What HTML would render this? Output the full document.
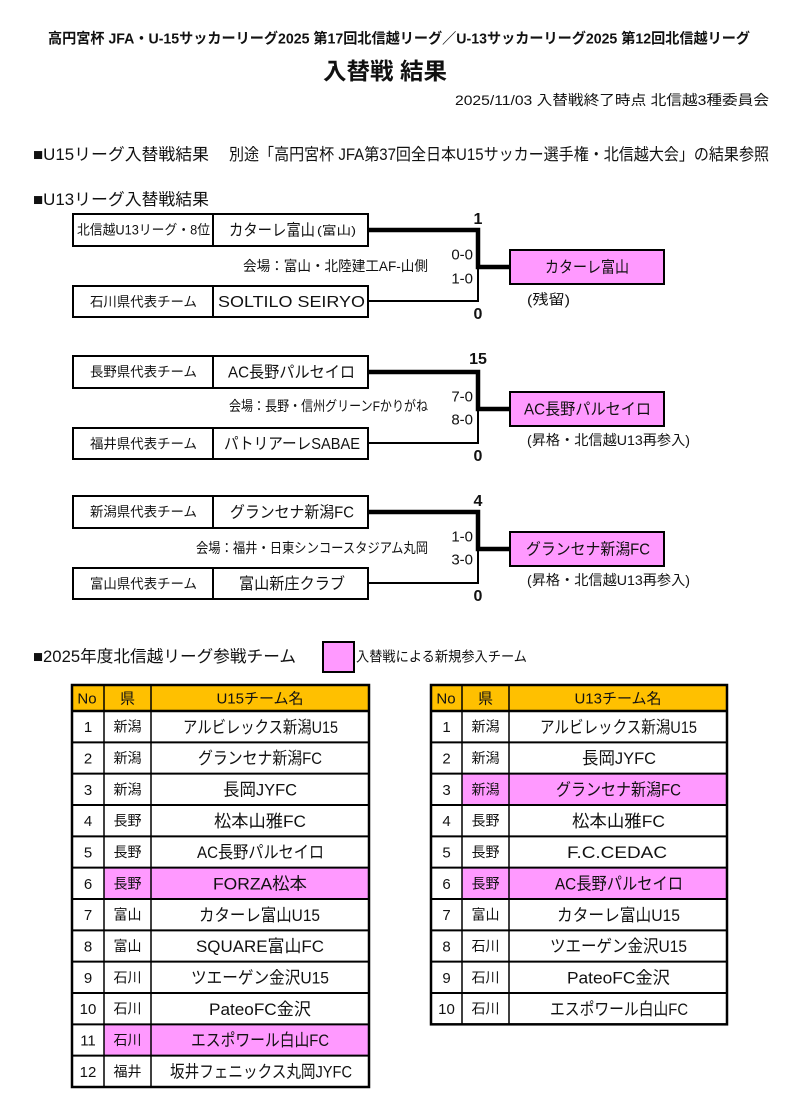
<!DOCTYPE html>
<html><head><meta charset="utf-8">
<style>
html,body{margin:0;padding:0;background:#fff;}
svg{display:block;}
text{font-family:"Liberation Sans","Noto Sans CJK JP",sans-serif;fill:#111;}
</style></head>
<body>
<svg width="794" height="1116" viewBox="0 0 794 1116" xmlns="http://www.w3.org/2000/svg">
<rect width="794" height="1116" fill="#fff"/>

<!-- Header -->
<text x="48" y="43.5" font-size="14.5" font-weight="bold" textLength="702" lengthAdjust="spacingAndGlyphs">高円宮杯 JFA・U-15サッカーリーグ2025 第17回北信越リーグ／U-13サッカーリーグ2025 第12回北信越リーグ</text>
<text x="323" y="79" font-size="23" font-weight="bold" textLength="124" lengthAdjust="spacingAndGlyphs">入替戦 結果</text>
<text x="455" y="105" font-size="14" textLength="314" lengthAdjust="spacingAndGlyphs">2025/11/03 入替戦終了時点  北信越3種委員会</text>

<text x="33" y="160" font-size="16.5" textLength="176" lengthAdjust="spacingAndGlyphs">■U15リーグ入替戦結果</text>
<text x="229" y="160" font-size="16.5" textLength="540" lengthAdjust="spacingAndGlyphs">別途「高円宮杯 JFA第37回全日本U15サッカー選手権・北信越大会」の結果参照</text>
<text x="33" y="205" font-size="16.5" textLength="176" lengthAdjust="spacingAndGlyphs">■U13リーグ入替戦結果</text>

<!-- Bracket 1 -->
<g>
<polyline points="368,230 478,230 478,267 509,267" fill="none" stroke="#000" stroke-width="4.5"/>
<polyline points="368,301 478,301 478,267" fill="none" stroke="#000" stroke-width="2"/>
<rect x="73" y="214" width="295" height="32" fill="#fff" stroke="#000" stroke-width="2"/>
<line x1="213" y1="214" x2="213" y2="246" stroke="#000" stroke-width="2"/>
<rect x="73" y="286" width="295" height="31" fill="#fff" stroke="#000" stroke-width="2"/>
<line x1="213" y1="286" x2="213" y2="317" stroke="#000" stroke-width="2"/>
<rect x="510" y="250" width="154" height="34" fill="#FF99FF" stroke="#000" stroke-width="2"/>
<text x="77" y="234.5" font-size="13.5" textLength="133" lengthAdjust="spacingAndGlyphs">北信越U13リーグ・8位</text>
<text x="229" y="235.5" font-size="16" textLength="86" lengthAdjust="spacingAndGlyphs">カターレ富山</text>
<text x="317" y="234.5" font-size="12" textLength="39" lengthAdjust="spacingAndGlyphs">(富山)</text>
<text x="90" y="306.5" font-size="13.5" textLength="107" lengthAdjust="spacingAndGlyphs">石川県代表チーム</text>
<text x="218" y="307" font-size="16" textLength="147" lengthAdjust="spacingAndGlyphs">SOLTILO SEIRYO</text>
<text x="545" y="272.5" font-size="16" textLength="84" lengthAdjust="spacingAndGlyphs">カターレ富山</text>
<text x="478" y="224" font-size="16" font-weight="bold" text-anchor="middle">1</text>
<text x="478" y="319" font-size="16" font-weight="bold" text-anchor="middle">0</text>
<text x="473" y="259.5" font-size="15" text-anchor="end">0-0</text>
<text x="473" y="283.5" font-size="15" text-anchor="end">1-0</text>
<text x="243" y="271" font-size="14" textLength="185" lengthAdjust="spacingAndGlyphs">会場：富山・北陸建工AF-山側</text>
<text x="527" y="304.5" font-size="14" textLength="43" lengthAdjust="spacingAndGlyphs">(残留)</text>
</g>

<!-- Bracket 2 -->
<g transform="translate(0,142)">
<polyline points="368,230 478,230 478,267 509,267" fill="none" stroke="#000" stroke-width="4.5"/>
<polyline points="368,301 478,301 478,267" fill="none" stroke="#000" stroke-width="2"/>
<rect x="73" y="214" width="295" height="32" fill="#fff" stroke="#000" stroke-width="2"/>
<line x1="213" y1="214" x2="213" y2="246" stroke="#000" stroke-width="2"/>
<rect x="73" y="286" width="295" height="31" fill="#fff" stroke="#000" stroke-width="2"/>
<line x1="213" y1="286" x2="213" y2="317" stroke="#000" stroke-width="2"/>
<rect x="510" y="250" width="154" height="34" fill="#FF99FF" stroke="#000" stroke-width="2"/>
<text x="90" y="234.5" font-size="13.5" textLength="107" lengthAdjust="spacingAndGlyphs">長野県代表チーム</text>
<text x="228" y="235.5" font-size="16" textLength="127" lengthAdjust="spacingAndGlyphs">AC長野パルセイロ</text>
<text x="90" y="306.5" font-size="13.5" textLength="107" lengthAdjust="spacingAndGlyphs">福井県代表チーム</text>
<text x="224" y="307" font-size="16" textLength="136" lengthAdjust="spacingAndGlyphs">パトリアーレSABAE</text>
<text x="524" y="272.5" font-size="16" textLength="127" lengthAdjust="spacingAndGlyphs">AC長野パルセイロ</text>
<text x="478" y="222" font-size="16" font-weight="bold" text-anchor="middle">15</text>
<text x="478" y="319" font-size="16" font-weight="bold" text-anchor="middle">0</text>
<text x="473" y="259.5" font-size="15" text-anchor="end">7-0</text>
<text x="473" y="282.5" font-size="15" text-anchor="end">8-0</text>
<text x="229" y="269" font-size="14" textLength="199" lengthAdjust="spacingAndGlyphs">会場：長野・信州グリーンFかりがね</text>
<text x="527" y="303" font-size="14" textLength="163" lengthAdjust="spacingAndGlyphs">(昇格・北信越U13再参入)</text>
</g>

<!-- Bracket 3 -->
<g transform="translate(0,282)">
<polyline points="368,230 478,230 478,267 509,267" fill="none" stroke="#000" stroke-width="4.5"/>
<polyline points="368,301 478,301 478,267" fill="none" stroke="#000" stroke-width="2"/>
<rect x="73" y="214" width="295" height="32" fill="#fff" stroke="#000" stroke-width="2"/>
<line x1="213" y1="214" x2="213" y2="246" stroke="#000" stroke-width="2"/>
<rect x="73" y="286" width="295" height="31" fill="#fff" stroke="#000" stroke-width="2"/>
<line x1="213" y1="286" x2="213" y2="317" stroke="#000" stroke-width="2"/>
<rect x="510" y="250" width="154" height="34" fill="#FF99FF" stroke="#000" stroke-width="2"/>
<text x="90" y="234.5" font-size="13.5" textLength="107" lengthAdjust="spacingAndGlyphs">新潟県代表チーム</text>
<text x="230" y="235.5" font-size="16" textLength="124" lengthAdjust="spacingAndGlyphs">グランセナ新潟FC</text>
<text x="90" y="306.5" font-size="13.5" textLength="107" lengthAdjust="spacingAndGlyphs">富山県代表チーム</text>
<text x="239" y="307" font-size="16" textLength="106" lengthAdjust="spacingAndGlyphs">富山新庄クラブ</text>
<text x="526" y="272.5" font-size="16" textLength="124" lengthAdjust="spacingAndGlyphs">グランセナ新潟FC</text>
<text x="478" y="224" font-size="16" font-weight="bold" text-anchor="middle">4</text>
<text x="478" y="319" font-size="16" font-weight="bold" text-anchor="middle">0</text>
<text x="473" y="259.5" font-size="15" text-anchor="end">1-0</text>
<text x="473" y="282.5" font-size="15" text-anchor="end">3-0</text>
<text x="196" y="271" font-size="14" textLength="232" lengthAdjust="spacingAndGlyphs">会場：福井・日東シンコースタジアム丸岡</text>
<text x="527" y="303" font-size="14" textLength="163" lengthAdjust="spacingAndGlyphs">(昇格・北信越U13再参入)</text>
</g>

<!-- Section 3 heading & legend -->
<text x="33" y="662" font-size="16.5" textLength="263" lengthAdjust="spacingAndGlyphs">■2025年度北信越リーグ参戦チーム</text>
<rect x="323" y="642" width="31" height="30" fill="#FF99FF" stroke="#000" stroke-width="2"/>
<text x="356" y="661.5" font-size="14" textLength="171" lengthAdjust="spacingAndGlyphs">入替戦による新規参入チーム</text>

<!-- Left table -->
<g>
<rect x="72" y="685" width="297" height="26" fill="#FFC000"/>
<rect x="104" y="867.67" width="265" height="31.33" fill="#FF99FF"/>
<rect x="104" y="1024.33" width="265" height="31.33" fill="#FF99FF"/>
<g stroke="#000" stroke-width="2">
<line x1="72" y1="711" x2="369" y2="711" stroke-width="2.5"/>
<line x1="72" y1="742.33" x2="369" y2="742.33"/>
<line x1="72" y1="773.67" x2="369" y2="773.67"/>
<line x1="72" y1="805" x2="369" y2="805"/>
<line x1="72" y1="836.33" x2="369" y2="836.33"/>
<line x1="72" y1="867.67" x2="369" y2="867.67"/>
<line x1="72" y1="899" x2="369" y2="899"/>
<line x1="72" y1="930.33" x2="369" y2="930.33"/>
<line x1="72" y1="961.67" x2="369" y2="961.67"/>
<line x1="72" y1="993" x2="369" y2="993"/>
<line x1="72" y1="1024.33" x2="369" y2="1024.33"/>
<line x1="72" y1="1055.67" x2="369" y2="1055.67"/>
<line x1="104" y1="685" x2="104" y2="1087" stroke-width="1.5"/>
<line x1="151" y1="685" x2="151" y2="1087" stroke-width="1.5"/>
</g>
<rect x="72" y="685" width="297" height="402" fill="none" stroke="#000" stroke-width="2.5"/>
<text x="87" y="703.5" font-size="15" text-anchor="middle">No</text>
<text x="127.5" y="703.5" font-size="15" text-anchor="middle">県</text>
<text x="260" y="703.5" font-size="15" text-anchor="middle">U15チーム名</text>
<g font-size="15" text-anchor="middle">
<text x="88" y="732.2">1</text><text x="88" y="763.5">2</text><text x="88" y="794.8">3</text><text x="88" y="826.2">4</text><text x="88" y="857.5">5</text><text x="88" y="888.8">6</text><text x="88" y="920.2">7</text><text x="88" y="951.5">8</text><text x="88" y="982.8">9</text><text x="88" y="1014.2">10</text><text x="88" y="1045.5">11</text><text x="88" y="1076.8">12</text>
</g>
<g font-size="14" text-anchor="middle">
<text x="127.5" y="731.7">新潟</text><text x="127.5" y="763">新潟</text><text x="127.5" y="794.3">新潟</text><text x="127.5" y="825.7">長野</text><text x="127.5" y="857">長野</text><text x="127.5" y="888.3">長野</text><text x="127.5" y="919.7">富山</text><text x="127.5" y="951">富山</text><text x="127.5" y="982.3">石川</text><text x="127.5" y="1013.7">石川</text><text x="127.5" y="1045">石川</text><text x="127.5" y="1076.3">福井</text>
</g>
<g font-size="17">
<text x="183" y="732.8" textLength="155" lengthAdjust="spacingAndGlyphs">アルビレックス新潟U15</text>
<text x="198" y="764.1" textLength="124" lengthAdjust="spacingAndGlyphs">グランセナ新潟FC</text>
<text x="223" y="795.4" textLength="74" lengthAdjust="spacingAndGlyphs">長岡JYFC</text>
<text x="214" y="826.8" textLength="92" lengthAdjust="spacingAndGlyphs">松本山雅FC</text>
<text x="197" y="858.1" textLength="127" lengthAdjust="spacingAndGlyphs">AC長野パルセイロ</text>
<text x="213" y="889.4" textLength="94" lengthAdjust="spacingAndGlyphs">FORZA松本</text>
<text x="199" y="920.8" textLength="121" lengthAdjust="spacingAndGlyphs">カターレ富山U15</text>
<text x="196" y="952.1" textLength="128" lengthAdjust="spacingAndGlyphs">SQUARE富山FC</text>
<text x="191" y="983.4" textLength="138" lengthAdjust="spacingAndGlyphs">ツエーゲン金沢U15</text>
<text x="209" y="1014.8" textLength="102" lengthAdjust="spacingAndGlyphs">PateoFC金沢</text>
<text x="191" y="1046.1" textLength="138" lengthAdjust="spacingAndGlyphs">エスポワール白山FC</text>
<text x="170" y="1077.4" textLength="182" lengthAdjust="spacingAndGlyphs">坂井フェニックス丸岡JYFC</text>
</g>
</g>

<!-- Right table -->
<g>
<rect x="431" y="685" width="296" height="26" fill="#FFC000"/>
<rect x="462" y="773.67" width="265" height="31.33" fill="#FF99FF"/>
<rect x="462" y="867.67" width="265" height="31.33" fill="#FF99FF"/>
<g stroke="#000" stroke-width="2">
<line x1="431" y1="711" x2="727" y2="711" stroke-width="2.5"/>
<line x1="431" y1="742.33" x2="727" y2="742.33"/>
<line x1="431" y1="773.67" x2="727" y2="773.67"/>
<line x1="431" y1="805" x2="727" y2="805"/>
<line x1="431" y1="836.33" x2="727" y2="836.33"/>
<line x1="431" y1="867.67" x2="727" y2="867.67"/>
<line x1="431" y1="899" x2="727" y2="899"/>
<line x1="431" y1="930.33" x2="727" y2="930.33"/>
<line x1="431" y1="961.67" x2="727" y2="961.67"/>
<line x1="431" y1="993" x2="727" y2="993"/>
<line x1="462" y1="685" x2="462" y2="1024.33" stroke-width="1.5"/>
<line x1="509" y1="685" x2="509" y2="1024.33" stroke-width="1.5"/>
</g>
<rect x="431" y="685" width="296" height="339.33" fill="none" stroke="#000" stroke-width="2.5"/>
<text x="446" y="703.5" font-size="15" text-anchor="middle">No</text>
<text x="485.5" y="703.5" font-size="15" text-anchor="middle">県</text>
<text x="618" y="703.5" font-size="15" text-anchor="middle">U13チーム名</text>
<g font-size="15" text-anchor="middle">
<text x="446.5" y="732.2">1</text><text x="446.5" y="763.5">2</text><text x="446.5" y="794.8">3</text><text x="446.5" y="826.2">4</text><text x="446.5" y="857.5">5</text><text x="446.5" y="888.8">6</text><text x="446.5" y="920.2">7</text><text x="446.5" y="951.5">8</text><text x="446.5" y="982.8">9</text><text x="446.5" y="1014.2">10</text>
</g>
<g font-size="14" text-anchor="middle">
<text x="485.5" y="731.7">新潟</text><text x="485.5" y="763">新潟</text><text x="485.5" y="794.3">新潟</text><text x="485.5" y="825.7">長野</text><text x="485.5" y="857">長野</text><text x="485.5" y="888.3">長野</text><text x="485.5" y="919.7">富山</text><text x="485.5" y="951">石川</text><text x="485.5" y="982.3">石川</text><text x="485.5" y="1013.7">石川</text>
</g>
<g font-size="17">
<text x="540" y="732.8" textLength="157" lengthAdjust="spacingAndGlyphs">アルビレックス新潟U15</text>
<text x="582" y="764.1" textLength="74" lengthAdjust="spacingAndGlyphs">長岡JYFC</text>
<text x="556" y="795.4" textLength="125" lengthAdjust="spacingAndGlyphs">グランセナ新潟FC</text>
<text x="572" y="826.8" textLength="93" lengthAdjust="spacingAndGlyphs">松本山雅FC</text>
<text x="567" y="858.1" textLength="100" lengthAdjust="spacingAndGlyphs">F.C.CEDAC</text>
<text x="555" y="889.4" textLength="128" lengthAdjust="spacingAndGlyphs">AC長野パルセイロ</text>
<text x="557" y="920.8" textLength="123" lengthAdjust="spacingAndGlyphs">カターレ富山U15</text>
<text x="550" y="952.1" textLength="137" lengthAdjust="spacingAndGlyphs">ツエーゲン金沢U15</text>
<text x="567" y="983.4" textLength="103" lengthAdjust="spacingAndGlyphs">PateoFC金沢</text>
<text x="550" y="1014.8" textLength="138" lengthAdjust="spacingAndGlyphs">エスポワール白山FC</text>
</g>
</g>
</svg>
</body></html>
